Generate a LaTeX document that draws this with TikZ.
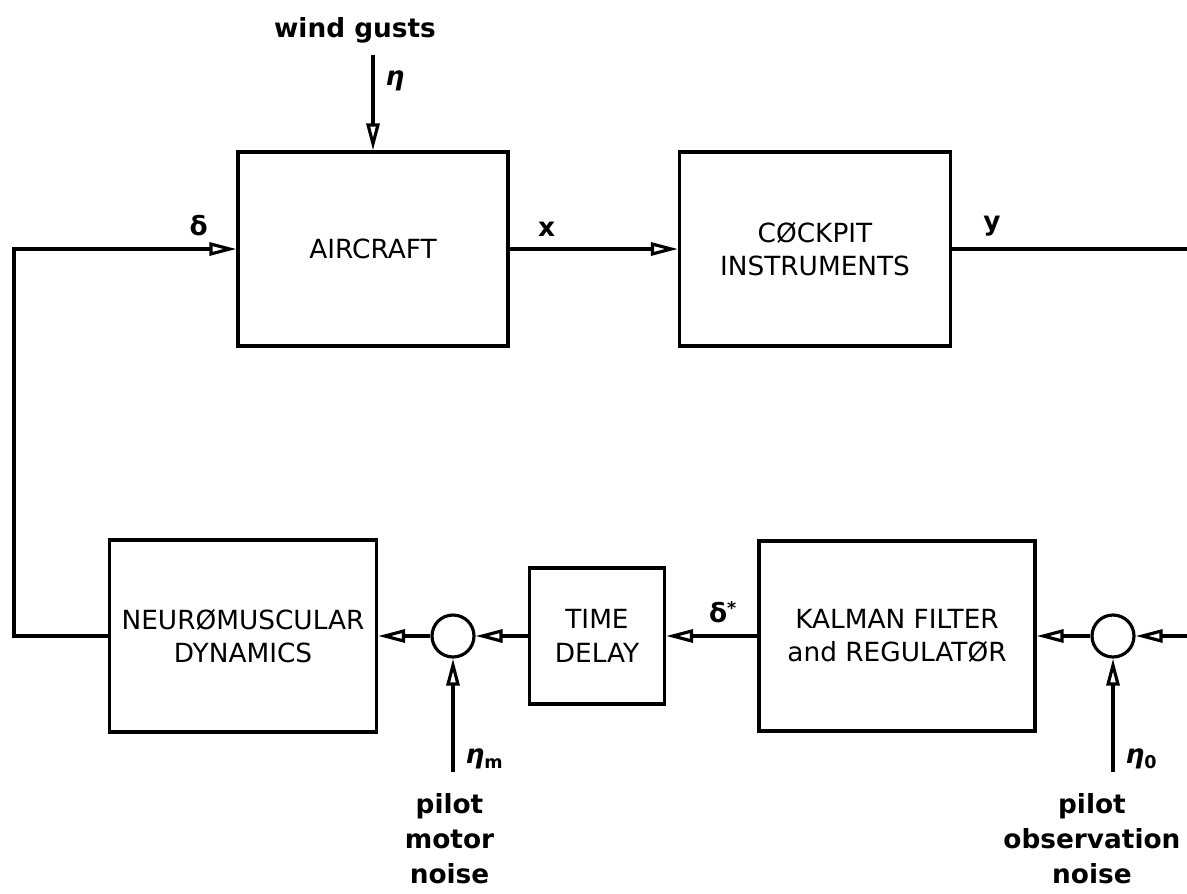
\documentclass[tikz,border=0pt]{standalone}
\usepackage{fontspec}
\setmainfont{DejaVu Sans}
\usetikzlibrary{positioning,arrows.meta,calc}

\newcommand{\sym}[1]{\textbf{\textit{#1}}}
\newcommand{\idx}[1]{\raisebox{-3pt}{\fontsize{10}{10}\selectfont\bfseries #1}}

\begin{document}
\begin{tikzpicture}[
    x=0.02cm, y=-0.02cm,
    font=\fontsize{15}{19}\selectfont,
    >={Triangle[open, length=5.4mm, width=2.6mm]},
    line width=1.8pt,
    blk/.style   ={draw, align=center, inner sep=2pt, line width=1.8pt},
    sumpt/.style ={draw, circle, minimum size=8.4mm, inner sep=0pt, line width=1.8pt},
    lbl/.style   ={font=\fontsize{15}{19}\selectfont\bfseries},
    noise/.style ={align=center, font=\fontsize{15}{20}\selectfont\bfseries},
    flow/.style  ={->, line width=1.8pt},
]
\useasboundingbox (0,0) rectangle (1187,893);

% --- plant and display (top row) ---
\node[blk, minimum width=5.4cm,  minimum height=3.88cm] (aircraft) at (373,249) {AIRCRAFT};
\node[blk, minimum width=5.42cm, minimum height=3.88cm] (cockpit)  at (815,249) {CØCKPIT\\INSTRUMENTS};

% --- pilot model (bottom row) ---
\node[blk, minimum width=5.34cm, minimum height=3.84cm] (neuro)  at (243,636) {NEURØMUSCULAR\\DYNAMICS};
\node[blk, minimum width=2.7cm,  minimum height=2.72cm] (delay)  at (597,636) {TIME\\DELAY};
\node[blk, minimum width=5.52cm, minimum height=3.8cm]  (kalman) at (897,636) {KALMAN FILTER\\and REGULATØR};
\node[sumpt] (summ) at (453,636) {};
\node[sumpt] (sumo) at (1113,636) {};

% free ends
\coordinate (gust)     at (373,55);
\coordinate (fbcorner) at (14,636);
\coordinate (yout)     at (1187,249);
\coordinate (obsin)    at (1187,636);
\coordinate (motorin)  at (453,772);
\coordinate (obsnin)   at (1113,772);

\node[lbl] (gusttxt) at (355,30) {wind gusts};
\node[noise, below=8pt of motorin, xshift=-2pt] (motortxt) {pilot\\motor\\noise};
\node[noise, below=8pt of obsnin, xshift=-12pt] (obstxt)   {pilot\\observation\\noise};

% forward path
\draw[flow] (gust) -- (aircraft.north) node[lbl, pos=0.27, right=3pt] {\sym{η}};
\draw[flow] (aircraft.east) -- (cockpit.west) node[lbl, pos=0.22, above=3pt] {x};
\draw (cockpit.east) -- (yout) node[lbl, pos=0.17, above=3pt] {y};

% pilot loop
\draw[flow] (obsin) -- (sumo.east);
\draw[flow] (obsnin) -- (sumo.south) node[lbl, pos=0.12, right=3pt] {\sym{η}\idx{0}};
\draw[flow] (sumo.west) -- (kalman.east);
\draw[flow] (kalman.west) -- (delay.east) node[lbl, pos=0.38, above=3pt] {δ\raisebox{5pt}{\fontsize{10}{10}\selectfont *}};
\draw[flow] (delay.west) -- (summ.east);
\draw[flow] (motorin) -- (summ.south) node[lbl, pos=0.12, right=3pt] {\sym{η}\idx{m}};
\draw[flow] (summ.west) -- (neuro.east);

% feedback to the control surfaces
\draw[flow] (neuro.west) -- (fbcorner) |- (aircraft.west)
    node[lbl, pos=0.915, above=3pt] {δ};

\end{tikzpicture}
\end{document}
